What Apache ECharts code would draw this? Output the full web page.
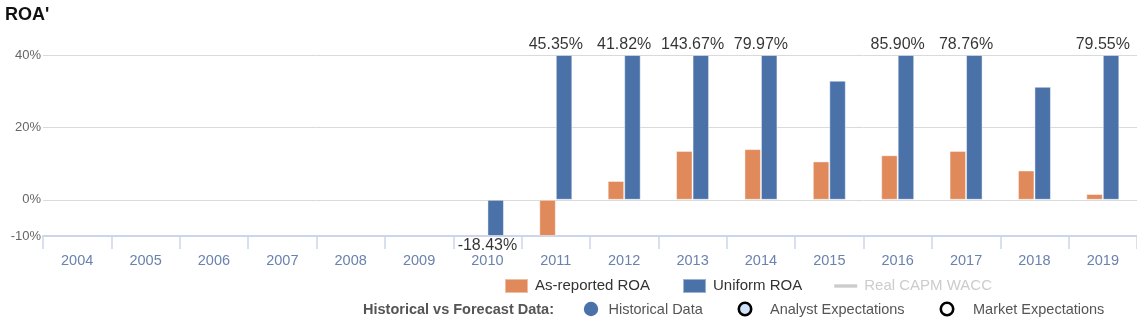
<!DOCTYPE html>
<html>
<head>
<meta charset="utf-8">
<script src="https://cdn.jsdelivr.net/npm/echarts@6/dist/echarts.min.js"></script>
<style>
  html, body { margin: 0; padding: 0; background: #fff; }
  #chart { width: 1137px; height: 322px; }
</style>
</head>
<body>
<div id="chart"></div>
<script>
// ---- data ----
const years = ['2004','2005','2006','2007','2008','2009','2010','2011','2012','2013','2014','2015','2016','2017','2018','2019'];
const asReportedROA = [null,null,null,null,null,null,null,-11,5.2,13.5,14.0,10.6,12.3,13.5,8.1,1.6];
const uniformROA = [null,null,null,null,null,null,-18.43,45.35,41.82,143.67,79.97,32.9,85.90,78.76,31.2,79.55];
const realCapmWacc = [];
const yAxisMin = -10;
const yAxisMax = 40;
const yTickLabels = [-10, 0, 20, 40];
const forecastLegend = ['Historical Data', 'Analyst Expectations', 'Market Expectations'];

// ---- helpers ----
const FONT = 'Arial, "Liberation Sans", sans-serif';
function clip(v) { return v == null ? null : Math.max(yAxisMin, Math.min(yAxisMax, v)); }
const uniformLabelData = uniformROA.map(v => {
  if (v == null) return null;
  if (v > yAxisMax) return { value: yAxisMax, raw: v, label: { position: 'top' } };
  if (v < yAxisMin) return { value: yAxisMin, raw: v, label: { position: 'bottom' } };
  return null;
});

const chart = echarts.init(document.getElementById('chart'), null, { renderer: 'canvas' });
chart.setOption({
  animation: false,
  backgroundColor: '#ffffff',
  textStyle: { fontFamily: FONT },
  title: {
    text: "ROA'",
    left: 0, top: 1,
    textStyle: { fontFamily: FONT, fontWeight: 'bold', fontSize: 18, color: '#111' }
  },
  grid: { left: 43, top: 55, width: 1095, height: 181, containLabel: false },
  legend: {
    left: 504, top: 278, padding: 0,
    itemWidth: 23, itemHeight: 14, itemGap: 32,
    inactiveColor: '#cccccc',
    textStyle: { fontSize: 15, color: '#333333', fontFamily: FONT, padding: [0, 0, 0, 2] },
    data: [
      { name: 'As-reported ROA', icon: 'rect' },
      { name: 'Uniform ROA', icon: 'rect' },
      { name: 'Real CAPM WACC', icon: 'path://M0,0H24V3.5H0Z' }
    ],
    selected: { 'Real CAPM WACC': false }
  },
  xAxis: {
    type: 'category',
    data: years,
    boundaryGap: true,
    axisLine: { onZero: false, lineStyle: { color: '#ccd6eb', width: 2 } },
    axisTick: { show: true, length: 13, lineStyle: { color: '#ccd6eb', width: 1.5 } },
    axisLabel: { fontSize: 14.5, color: '#6a82ae', margin: 17, fontFamily: FONT },
    splitLine: { show: false }
  },
  yAxis: {
    type: 'value',
    min: yAxisMin, max: yAxisMax, interval: 10,
    axisLine: { show: false },
    axisTick: { show: false },
    axisLabel: {
      fontSize: 13, color: '#666666', margin: 2, fontFamily: FONT,
      formatter: v => yTickLabels.indexOf(v) >= 0 ? v + '%' : ''
    },
    splitLine: { show: true, lineStyle: { color: ['rgba(0,0,0,0)', '#dadada'], width: 1 } }
  },
  series: [
    {
      name: 'As-reported ROA', type: 'bar',
      data: asReportedROA.map(clip),
      barWidth: 16.5, barGap: '0%',
      itemStyle: { color: '#e0895a', borderColor: 'rgba(255,255,255,0.45)', borderWidth: 1 }
    },
    {
      name: 'Uniform ROA', type: 'bar',
      data: uniformROA.map(clip),
      barWidth: 16.5, barGap: '0%',
      itemStyle: { color: '#4a72a8', borderColor: 'rgba(255,255,255,0.45)', borderWidth: 1 }
    },
    {
      name: 'Real CAPM WACC', type: 'line',
      data: realCapmWacc,
      itemStyle: { color: '#cccccc' }, lineStyle: { color: '#cccccc', width: 2 }
    },
    {
      name: 'labels', type: 'scatter',
      data: uniformLabelData,
      symbolSize: 0, silent: true, z: 5, clip: false,
      label: {
        show: true, distance: 2, fontSize: 16, color: '#000000', fontFamily: FONT,
        formatter: p => p.data && p.data.raw != null ? p.data.raw.toFixed(2) + '%' : ''
      }
    }
  ],
  graphic: [
    { type: 'text', left: 363, top: 302, style: { text: 'Historical vs Forecast Data:', font: 'bold 14.5px ' + FONT, fill: '#555555' } },
    { type: 'circle', shape: { cx: 591, cy: 309, r: 7.2 }, style: { fill: '#4a72a8' } },
    { type: 'text', left: 608.5, top: 302, style: { text: forecastLegend[0], font: '14.5px ' + FONT, fill: '#555555' } },
    { type: 'circle', shape: { cx: 745, cy: 309, r: 6.2 }, style: { fill: '#cfe2f9', stroke: '#000000', lineWidth: 2.6 } },
    { type: 'text', left: 770, top: 302, style: { text: forecastLegend[1], font: '14.5px ' + FONT, fill: '#555555' } },
    { type: 'circle', shape: { cx: 947, cy: 309, r: 6.2 }, style: { fill: '#ffffff', stroke: '#000000', lineWidth: 2.6 } },
    { type: 'text', left: 973, top: 302, style: { text: forecastLegend[2], font: '14.5px ' + FONT, fill: '#555555' } }
  ]
});
</script>
</body>
</html>
